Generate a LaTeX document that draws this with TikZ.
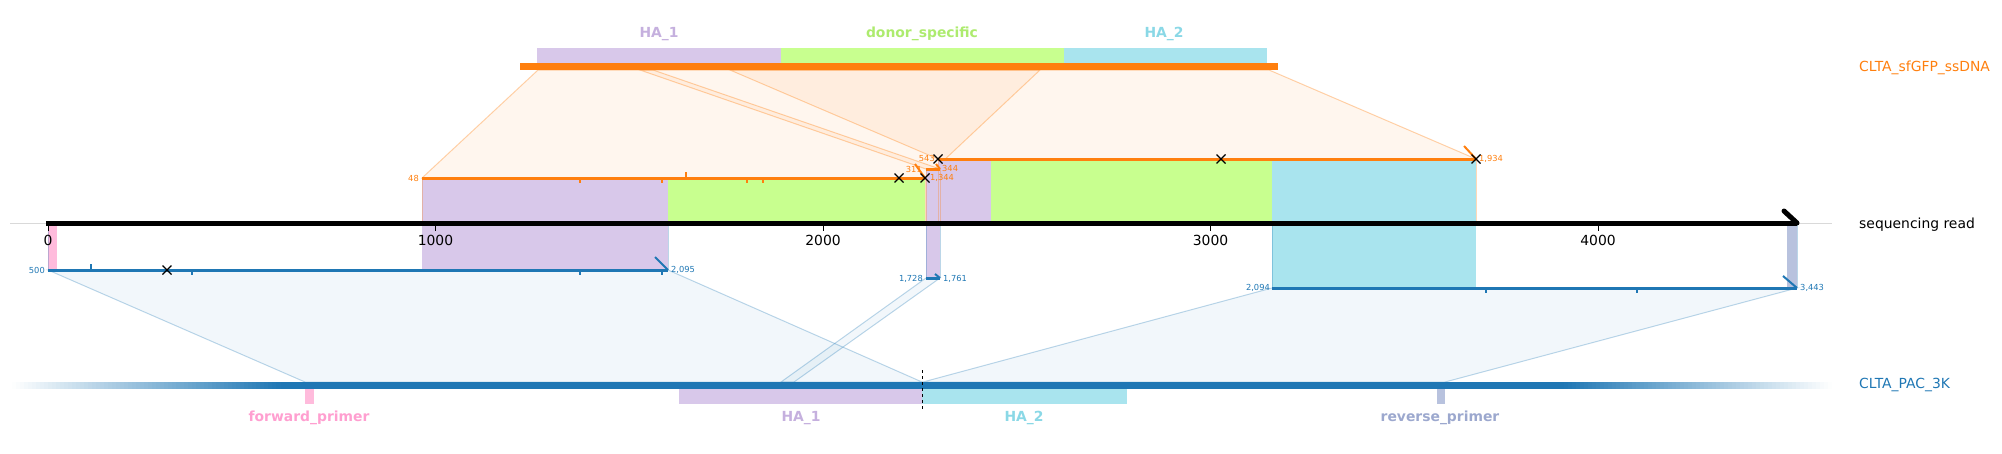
\documentclass[tikz,border=0pt]{standalone}
\usepackage{fontspec}
\setmainfont{DejaVu Sans}
\definecolor{tabblue}{HTML}{1F77B4}
\definecolor{taborange}{HTML}{FF7F0E}
\definecolor{hapurple}{HTML}{D8C8EA}
\definecolor{hapurplelbl}{HTML}{C5B0DE}
\definecolor{donorgreen}{HTML}{C8FF8F}
\definecolor{donorgreenlbl}{HTML}{ADEB6E}
\definecolor{hacyan}{HTML}{A9E4EE}
\definecolor{hacyanlbl}{HTML}{8AD8E6}
\definecolor{fwdpink}{HTML}{FFBBDC}
\definecolor{fwdpinklbl}{HTML}{FF9FD0}
\definecolor{revgray}{HTML}{B8C2DE}
\definecolor{revgraylbl}{HTML}{9CA8CE}
\newcommand{\mism}[1]{\draw[black, line width=1.3] (#1) +(-4.5,-4.5) -- +(4.5,4.5) +(-4.5,4.5) -- +(4.5,-4.5);}
\begin{document}
\begin{tikzpicture}[x=1pt, y=-1pt,
	lbl/.style={font=\fontsize{13.9}{16}\selectfont, inner sep=0pt},
	featlbl/.style={font=\fontsize{13.9}{16}\selectfont\bfseries, inner sep=0pt},
	poslbl/.style={font=\fontsize{8.3}{10}\selectfont, inner sep=0pt},
	orangeband/.style={fill=taborange, fill opacity=0.07, draw=taborange, draw opacity=0.35, line width=1},
	blueband/.style={fill=tabblue, fill opacity=0.06, draw=tabblue, draw opacity=0.3, line width=1},
	otrack/.style={draw=taborange, line width=3},
	btrack/.style={draw=tabblue, line width=3},
	oedge/.style={draw=taborange, draw opacity=0.3, line width=0.8},
	bedge/.style={draw=tabblue, draw opacity=0.3, line width=0.8}]

	\useasboundingbox (0,0) rectangle (2002,453);

	% ends of the alignments
	\coordinate (o1s) at (422,178); \coordinate (o1e) at (925,178);
	\coordinate (o2s) at (926,169); \coordinate (o2e) at (940,169);
	\coordinate (o3s) at (938,159); \coordinate (o3e) at (1476,159);
	\coordinate (b1s) at (48,270);  \coordinate (b1e) at (668,270);
	\coordinate (b2s) at (926,278); \coordinate (b2e) at (940,278);
	\coordinate (b3s) at (1272,288); \coordinate (b3e) at (1797,288);

	% bands to the ssDNA (top)
	\draw[orangeband] (538,70) -- (1040,70) -- (o1e) -- (o1s) -- cycle;
	\draw[orangeband] (640,70) -- (653,70) -- (o2e) -- (o2s) -- cycle;
	\draw[orangeband] (730,70) -- (1269,70) -- (o3e) -- (o3s) -- cycle;

	% bands to the plasmid (bottom)
	\draw[blueband] (b1s) -- (b1e) -- (922,382) -- (305,382) -- cycle;
	\draw[blueband] (b2s) -- (b2e) -- (794,382) -- (781,382) -- cycle;
	\draw[blueband] (b3s) -- (b3e) -- (1445,382) -- (923,382) -- cycle;

	% features on the read
	\fill[hapurple] (422,178) rectangle (668,270);
	\fill[donorgreen] (668,178) rectangle (925,223);
	\fill[hapurple] (926,169) rectangle (940,278);
	\fill[hapurple] (938,159) rectangle (991,223);
	\fill[donorgreen] (991,159) rectangle (1272,223);
	\fill[hacyan] (1272,159) rectangle (1476,288);
	\fill[fwdpink] (48,223) rectangle (57,270);
	\fill[revgray] (1787,223) rectangle (1797,288);

	% edges of the projections
	\foreach \x/\y in {422/178, 925/178, 926/169, 940/169, 938/159, 1476/159}
		\draw[oedge] (\x,\y) -- (\x,223);
	\foreach \x/\y in {48/270, 668/270, 926/278, 940/278, 1272/288, 1797/288}
		\draw[bedge] (\x,223) -- (\x,\y);

	% sequencing read
	\draw[black!15, line width=1] (10,223) -- (1832,223);
	\draw[black, line width=5] (46,223) -- (1797,223);
	\draw[black, line width=5, line cap=round] (1784,211) -- (1797,223);
	\foreach \t [count=\i from 0] in {0,1000,2000,3000,4000} {
		\draw[black, line width=0.8] (48+387.5*\i,226) -- (48+387.5*\i,231);
		\node[lbl, anchor=north] (tick\i) at (48+387.5*\i,235) {\t};
	}
	\node[lbl, anchor=west] (readlbl) at (1859,225) {sequencing read};

	% ssDNA alignments
	\draw[otrack] (o1s) -- (o1e);
	\draw[otrack] (o2s) -- (o2e);
	\draw[otrack] (o3s) -- (o3e);
	\draw[taborange, line width=2] (o1e) -- +(-10,-14);
	\draw[taborange, line width=2] (o2e) -- +(-4,-5);
	\draw[taborange, line width=2] (o3e) -- +(-12,-13);
	\foreach \x in {580,662,747,763}
		\draw[taborange, line width=2] (\x,178) -- (\x,183);
	\draw[taborange, line width=2] (686,178) -- (686,172);
	\node[poslbl, text=taborange, anchor=east] (o1sl) at (419,178) {48};
	\node[poslbl, text=taborange, anchor=west] (o1el) at (930,178) {1,344};
	\node[poslbl, text=taborange, anchor=east] (o2sl) at (922,169) {311};
	\node[poslbl, text=taborange, anchor=west] (o2el) at (942,168) {344};
	\node[poslbl, text=taborange, anchor=east] (o3sl) at (935,158) {543};
	\node[poslbl, text=taborange, anchor=west] (o3el) at (1479,159) {1,934};

	% plasmid alignments
	\draw[btrack] (b1s) -- (b1e);
	\draw[btrack] (b2s) -- (b2e);
	\draw[btrack] (b3s) -- (b3e);
	\draw[tabblue, line width=2] (b1e) -- +(-13,-13);
	\draw[tabblue, line width=2] (b2e) -- +(-5,-4);
	\draw[tabblue, line width=2] (b3e) -- +(-14,-12);
	\draw[tabblue, line width=2] (91,270) -- (91,264);
	\foreach \x in {192,580,662}
		\draw[tabblue, line width=2] (\x,270) -- (\x,275);
	\foreach \x in {1486,1637}
		\draw[tabblue, line width=2] (\x,288) -- (\x,293);
	\node[poslbl, text=tabblue, anchor=east] (b1sl) at (45,270) {500};
	\node[poslbl, text=tabblue, anchor=west] (b1el) at (671,270) {2,095};
	\node[poslbl, text=tabblue, anchor=east] (b2sl) at (923,279) {1,728};
	\node[poslbl, text=tabblue, anchor=west] (b2el) at (943,279) {1,761};
	\node[poslbl, text=tabblue, anchor=east] (b3sl) at (1270,288) {2,094};
	\node[poslbl, text=tabblue, anchor=west] (b3el) at (1800,288) {3,443};

	% mismatches
	\mism{o3s} \mism{1221,159} \mism{o3e}
	\mism{899,178} \mism{o1e}
	\mism{167,270}

	% ssDNA (top)
	\fill[hapurple] (537,48) rectangle (781,63);
	\fill[donorgreen] (781,48) rectangle (1064,63);
	\fill[hacyan] (1064,48) rectangle (1267,63);
	\fill[taborange] (520,63) rectangle (1278,70);
	\node[featlbl, text=hapurplelbl] (topha1) at (659,34) {HA\_1};
	\node[featlbl, text=donorgreenlbl] (topdonor) at (922,34) {donor\_specific};
	\node[featlbl, text=hacyanlbl] (topha2) at (1164,34) {HA\_2};
	\node[lbl, text=taborange, anchor=west] (ssdnalbl) at (1859,68) {CLTA\_sfGFP\_ssDNA};

	% plasmid (bottom), faded ends
	\fill[tabblue] (278,382) rectangle (1566,389);
	\foreach \i in {0,...,66} {
		\pgfmathsetmacro{\p}{100*(\i+0.5)/67}
		\fill[tabblue!\p!white] (12+4*\i,382) rectangle (16.5+4*\i,389);
		\fill[tabblue!\p!white] (1832-4*\i,382) rectangle (1827.5-4*\i,389);
	}
	\fill[fwdpink] (305,389) rectangle (314,404);
	\fill[hapurple] (679,389) rectangle (922,404);
	\fill[hacyan] (922,389) rectangle (1127,404);
	\fill[revgray] (1437,389) rectangle (1445,404);
	\draw[black, dashed, line width=0.8] (922,370) -- (922,409);
	\node[featlbl, text=fwdpinklbl] (fwdlbl) at (309,418) {forward\_primer};
	\node[featlbl, text=hapurplelbl] (botha1) at (801,418) {HA\_1};
	\node[featlbl, text=hacyanlbl] (botha2) at (1024,418) {HA\_2};
	\node[featlbl, text=revgraylbl] (revlbl) at (1440,418) {reverse\_primer};
	\node[lbl, text=tabblue, anchor=west] (plasmidlbl) at (1859,385) {CLTA\_PAC\_3K};

\end{tikzpicture}
\end{document}
